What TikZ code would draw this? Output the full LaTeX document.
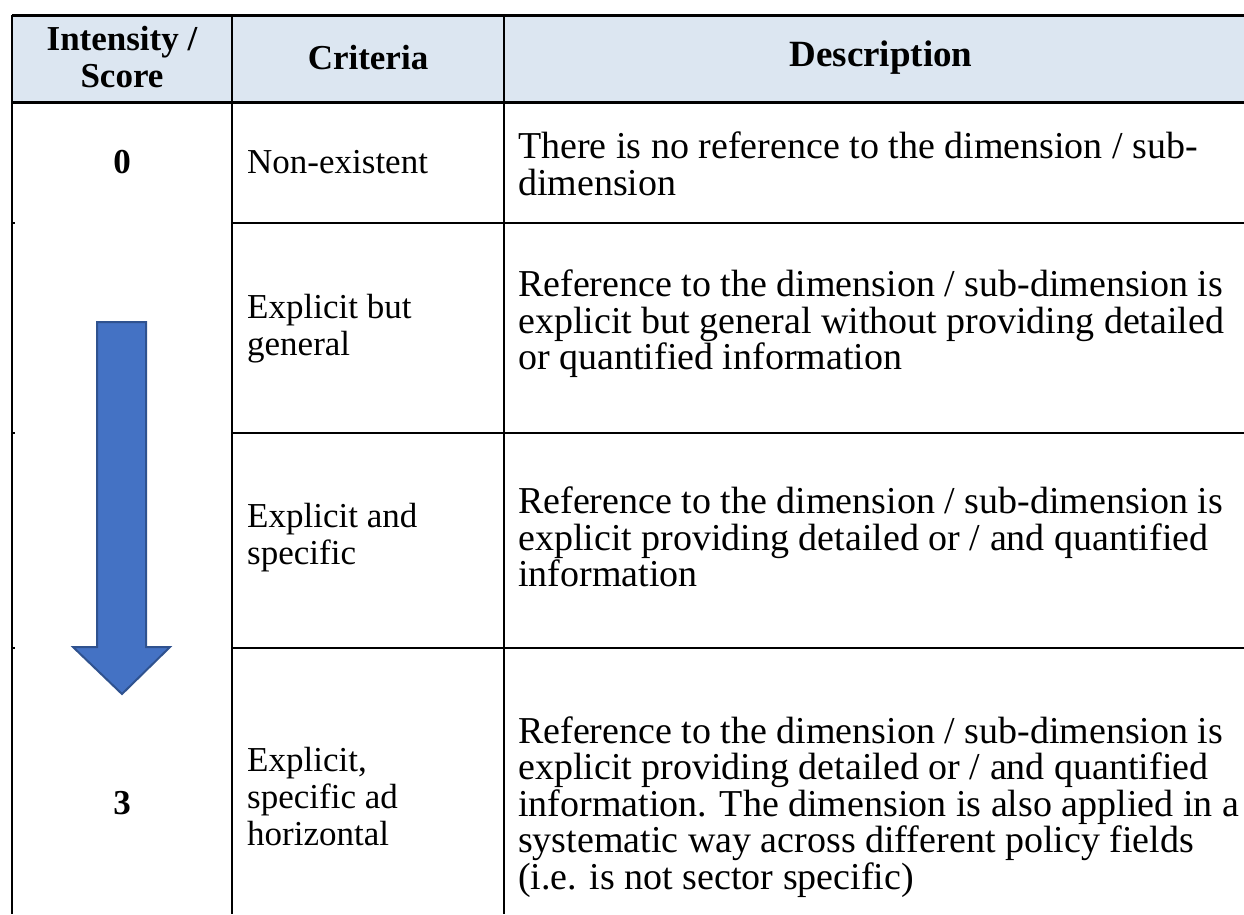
\documentclass[tikz,border=0pt]{standalone}
\usepackage{fontspec}
\setmainfont{Liberation Serif}
\usepackage{tikz}
\definecolor{headblue}{HTML}{DCE6F1}
\definecolor{arrowblue}{HTML}{4472C4}
\definecolor{arrowedge}{HTML}{2F528F}

\begin{document}
\begin{tikzpicture}[x=1pt, y=-1pt,
  cell/.style={font=\fontsize{35}{37}\selectfont, inner sep=0pt, align=left, anchor=west},
  desccell/.style={cell, font=\fontsize{38}{36.5}\selectfont},
  headcell/.style={font=\fontsize{35}{37}\selectfont\bfseries, inner sep=0pt, align=center},
  rule/.style={line width=2pt},
  thickrule/.style={line width=3pt}]

  \useasboundingbox (0,0) rectangle (1244,914);
  \clip (0,0) rectangle (1244,914);

  % header band
  \fill[headblue] (12,15) rectangle (1260,102);
  \draw[thickrule] (12,15) -- (1260,15);
  \draw[thickrule] (12,102) -- (1260,102);

  % columns
  \draw[rule] (12,15) -- (12,914);
  \draw[rule] (232,15) -- (232,914);
  \draw[rule] (504,15) -- (504,914);

  % rows
  \draw[rule] (232,223) -- (1260,223);
  \draw[rule] (232,433) -- (1260,433);
  \draw[rule] (232,648) -- (1260,648);
  \draw[rule] (12,223) -- (15,223);
  \draw[rule] (12,433) -- (15,433);
  \draw[rule] (12,648) -- (15,648);

  \node[headcell] (headscore) at (122,57) {Intensity /\\Score};
  \node[headcell] (headcrit) at (368,58) {Criteria};
  \node[headcell, font=\fontsize{37}{37}\selectfont\bfseries] (headdesc) at (881,58) {Description};

  \node[headcell] (score0) at (122,162) {0};
  \node[headcell] (score3) at (122,803) {3};

  % intensity arrow
  \draw[line width=2pt, arrowedge, fill=arrowblue, line join=miter]
    (97,322) -- (146,322) -- (146,647) -- (170,647) -- (122,694)
    -- (73,647) -- (97,647) -- cycle;

  \node[cell] (crit1) at (247,162) {Non-existent};
  \node[cell] (crit2) at (247,329) {Explicit but\\general};
  \node[cell] (crit3) at (247,538) {Explicit and\\specific};
  \node[cell] (crit4) at (247,797) {Explicit,\\specific ad\\horizontal};

  \node[desccell] (desc1) at (518,164) {There is no reference to the dimension / sub-\\dimension};
  \node[desccell] (desc2) at (518,324) {Reference to the dimension / sub-dimension is\\explicit but general without providing detailed\\or quantified information};
  \node[desccell] (desc3) at (518,537) {Reference to the dimension / sub-dimension is\\explicit providing detailed or / and quantified\\information};
  \node[desccell] (desc4) at (518,807) {Reference to the dimension / sub-dimension is\\explicit providing detailed or / and quantified\\information. The dimension is also applied in a\\systematic way across different policy fields\\(i.e. is not sector specific)};

\end{tikzpicture}
\end{document}
